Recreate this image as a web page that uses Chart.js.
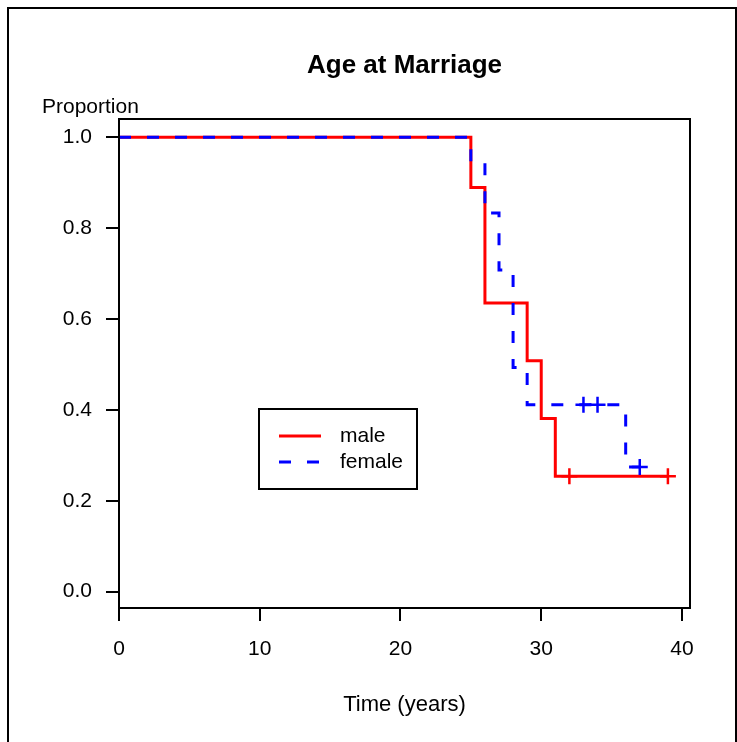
<!DOCTYPE html>
<html>
<head>
<meta charset="utf-8">
<script src="https://cdn.jsdelivr.net/npm/chart.js@4/dist/chart.umd.min.js"></script>
<style>
  html, body { margin: 0; padding: 0; background: #ffffff; }
  #wrap { width: 737px; height: 742px; position: relative; }
</style>
</head>
<body>
<div id="wrap"><canvas id="c" width="737" height="742"></canvas></div>
<script>
// ---- data ----
const chartTitle = "Age at Marriage";
const yAxisLabel = "Proportion";
const xAxisLabel = "Time (years)";
const xTicks = [0, 10, 20, 30, 40];
const yTicks = [0.0, 0.2, 0.4, 0.6, 0.8, 1.0];

const maleTime = [0, 25, 26, 29, 30, 31, 39];
const maleSurv = [1.0, 0.889, 0.635, 0.508, 0.381, 0.254, 0.254];
const maleCensorTime = [32, 39];
const maleCensorSurv = [0.254, 0.254];

const femaleTime = [0, 25, 26, 27, 28, 29, 36, 37];
const femaleSurv = [1.0, 0.944, 0.833, 0.708, 0.493, 0.411, 0.274, 0.274];
const femaleCensorTime = [33, 34, 37];
const femaleCensorSurv = [0.411, 0.411, 0.274];

const seriesNames = ["male", "female"];
const seriesColors = ["#ff0000", "#0000ff"];
const femaleDash = [12, 16];

const pts = (xs, ys) => xs.map((x, i) => ({ x: x, y: ys[i] }));
const FONT = "'Liberation Sans', Arial, Helvetica, sans-serif";

const framePlugin = {
  id: 'frame',
  afterDraw(chart) {
    const ctx = chart.ctx;
    const a = chart.chartArea;
    ctx.save();
    // outer figure border (no bottom edge visible)
    ctx.strokeStyle = '#000';
    ctx.lineWidth = 2;
    ctx.beginPath();
    ctx.moveTo(8, 742);
    ctx.lineTo(8, 8);
    ctx.lineTo(736, 8);
    ctx.lineTo(736, 742);
    ctx.stroke();
    // plot box
    ctx.strokeRect(a.left, a.top, a.right - a.left, a.bottom - a.top);
    // title
    ctx.fillStyle = '#000';
    ctx.font = "bold 26px " + FONT;
    ctx.textAlign = 'center';
    ctx.textBaseline = 'alphabetic';
    ctx.fillText(chartTitle, (a.left + a.right) / 2, 73);
    // y axis label
    ctx.font = "21px " + FONT;
    ctx.textAlign = 'left';
    ctx.fillText(yAxisLabel, 42, 113);
    // legend
    const bx = 259, by = 409, bw = 158, bh = 80;
    ctx.lineWidth = 2;
    ctx.strokeRect(bx, by, bw, bh);
    const ds = chart.data.datasets;
    const rows = [ds[0], ds[1]];
    const ys = [436, 462];
    rows.forEach((d, i) => {
      ctx.beginPath();
      ctx.strokeStyle = d.borderColor;
      ctx.lineWidth = 3;
      ctx.setLineDash(d.borderDash || []);
      ctx.moveTo(279, ys[i]);
      ctx.lineTo(321, ys[i]);
      ctx.stroke();
      ctx.setLineDash([]);
      ctx.fillStyle = '#000';
      ctx.font = "21px " + FONT;
      ctx.textAlign = 'left';
      ctx.textBaseline = 'middle';
      ctx.fillText(d.label, 340, ys[i]);
    });
    ctx.restore();
  }
};

new Chart(document.getElementById('c'), {
  type: 'line',
  data: {
    datasets: [
      {
        label: seriesNames[0],
        data: pts(maleTime, maleSurv),
        borderColor: seriesColors[0],
        borderWidth: 3,
        stepped: 'before',
        pointRadius: 0,
        fill: false,
        order: 3
      },
      {
        label: seriesNames[1],
        data: pts(femaleTime, femaleSurv),
        borderColor: seriesColors[1],
        borderWidth: 3,
        borderDash: femaleDash,
        borderCapStyle: 'butt',
        stepped: 'before',
        pointRadius: 0,
        fill: false,
        order: 1
      },
      {
        label: 'male censored',
        data: pts(maleCensorTime, maleCensorSurv),
        showLine: false,
        pointStyle: 'cross',
        pointRadius: 8,
        pointBorderWidth: 2.5,
        pointBorderColor: seriesColors[0],
        borderColor: seriesColors[0],
        order: 2
      },
      {
        label: 'female censored',
        data: pts(femaleCensorTime, femaleCensorSurv),
        showLine: false,
        pointStyle: 'cross',
        pointRadius: 8,
        pointBorderWidth: 2.5,
        pointBorderColor: seriesColors[1],
        borderColor: seriesColors[1],
        order: 0
      }
    ]
  },
  options: {
    responsive: false,
    animation: false,
    layout: { padding: { top: 119, right: 47, left: 0, bottom: 0 } },
    plugins: {
      legend: { display: false },
      tooltip: { enabled: false },
      title: { display: false }
    },
    scales: {
      x: {
        type: 'linear',
        position: 'bottom',
        min: 0,
        max: 40.57,
        afterBuildTicks: (s) => { s.ticks = xTicks.map(v => ({ value: v })); },
        afterFit: (s) => { s.height = 134; },
        ticks: {
          color: '#000',
          font: { family: FONT, size: 21 },
          padding: 16,
          maxRotation: 0,
          autoSkip: false
        },
        grid: {
          display: true,
          drawOnChartArea: false,
          drawTicks: true,
          tickLength: 13,
          color: '#000',
          lineWidth: 2
        },
        border: { display: true, color: '#000', width: 2 },
        title: {
          display: true,
          text: xAxisLabel,
          color: '#000',
          font: { family: FONT, size: 22 },
          padding: { top: 0, bottom: 24 }
        }
      },
      y: {
        type: 'linear',
        position: 'left',
        min: -0.036,
        max: 1.04,
        afterBuildTicks: (s) => { s.ticks = yTicks.map(v => ({ value: v })); },
        afterFit: (s) => { s.width = 119; },
        ticks: {
          color: '#000',
          font: { family: FONT, size: 21 },
          padding: 14,
          callback: (v) => Number(v).toFixed(1)
        },
        grid: {
          display: true,
          drawOnChartArea: false,
          drawTicks: true,
          tickLength: 13,
          color: '#000',
          lineWidth: 2
        },
        border: { display: true, color: '#000', width: 2 }
      }
    }
  },
  plugins: [framePlugin]
});
</script>
</body>
</html>
